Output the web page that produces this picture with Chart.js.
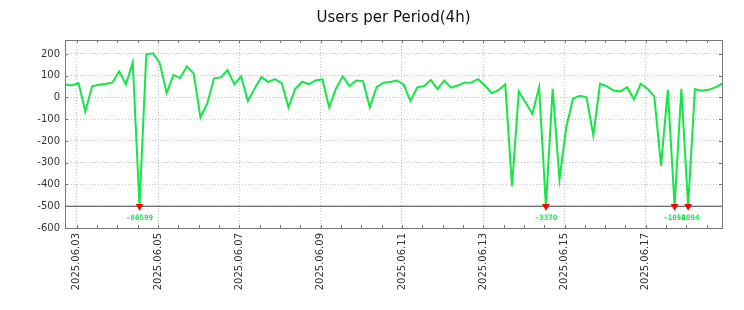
<!DOCTYPE html>
<html lang="en">
<head>
<meta charset="UTF-8">
<title>Users per Period(4h)</title>
<script src="https://cdn.jsdelivr.net/npm/chart.js"></script>
<style>
  html, body { margin: 0; padding: 0; background: #fff; }
  #wrap { position: relative; width: 744px; height: 310px; }
</style>
</head>
<body>
<div id="wrap"><canvas id="usersChart"></canvas></div>
<script>
// first sample is 7h before 2025.06.03 00:00, one sample every 4h
const startHour = -7;
const stepHours = 4;

// users per 4h period (raw values, some far below the axis)
const users = [
  60, 55, 66, -65, 51, 58, 62, 69, 120, 60,
  161, -66599, 198, 203, 157, 20, 103, 89, 143, 110,
  -92, -28, 88, 92, 126, 60, 97, -17, 41, 94,
  71, 84, 66, -46, 40, 72, 61, 78, 84, -45,
  40, 97, 52, 78, 75, -45, 47, 68, 71, 78,
  60, -17, 46, 52, 80, 38, 78, 45, 55, 68,
  69, 84, 55, 20, 33, 60, -408, 28, -23, -75,
  47, -3370, 40, -378, -137, -6, 8, 1, -175, 63,
  51, 32, 28, 47, -9, 63, 40, 5, -313, 35,
  -1050, 40, -8894, 38, 31, 35, 46, 63
];

// values under this are clipped and marked
const floorValue = -500;

const yTicks = [200, 100, 0, -100, -200, -300, -400, -500, -600];
const dayHours = [0, 48, 96, 144, 192, 240, 288, 336];
const dayLabels = ['2025.06.03', '2025.06.05', '2025.06.07', '2025.06.09',
                   '2025.06.11', '2025.06.13', '2025.06.15', '2025.06.17'];

const green = '#14e646';

const hours = users.map((v, i) => startHour + i * stepHours);
const linePoints = users.map((v, i) => ({ x: hours[i], y: Math.max(v, floorValue) }));
const clipped = [];
users.forEach((v, i) => { if (v < floorValue) clipped.push({ x: hours[i], y: floorValue, raw: v }); });

Chart.defaults.font.family = 'DejaVu Sans';
Chart.defaults.color = '#333';

// frame, inward tick marks and clipped-value labels (gnuplot look)
const frameAndLabels = {
  id: 'frameAndLabels',
  afterDatasetsDraw(chart) {
    const { ctx, chartArea: a, scales: { x, y } } = chart;
    ctx.save();
    ctx.strokeStyle = '#777';
    ctx.lineWidth = 1;
    ctx.beginPath();
    for (let h = 0; h <= x.max; h += 12) {
      const px = Math.round(x.getPixelForValue(h)) + 0.5;
      ctx.moveTo(px, a.bottom); ctx.lineTo(px, a.bottom - 3);
      ctx.moveTo(px, a.top); ctx.lineTo(px, a.top + 3);
    }
    yTicks.forEach(v => {
      const py = Math.round(y.getPixelForValue(v)) + 0.5;
      ctx.moveTo(a.left, py); ctx.lineTo(a.left + 3, py);
      ctx.moveTo(a.right, py); ctx.lineTo(a.right - 3, py);
    });
    ctx.stroke();
    ctx.strokeRect(Math.round(a.left) + 0.5, Math.round(a.top) + 0.5,
                   Math.round(a.right - a.left), Math.round(a.bottom - a.top));

    // labels under the markers
    const meta = chart.getDatasetMeta(2);
    ctx.fillStyle = green;
    ctx.font = 'bold 7.5px "DejaVu Sans Mono"';
    ctx.textAlign = 'center';
    ctx.textBaseline = 'middle';
    meta.data.forEach((pt, i) => {
      ctx.fillText(String(clipped[i].raw), pt.x, pt.y + 12);
    });
    ctx.restore();
  }
};

new Chart(document.getElementById('usersChart'), {
  type: 'line',
  data: {
    datasets: [
      {
        // horizontal floor line
        data: [{ x: startHour, y: floorValue }, { x: hours[hours.length - 1], y: floorValue }],
        borderColor: '#444',
        borderWidth: 1,
        pointRadius: 0,
        order: 3
      },
      {
        data: linePoints,
        borderColor: green,
        borderWidth: 2,
        pointRadius: 0,
        tension: 0,
        order: 2
      },
      {
        data: clipped,
        showLine: false,
        pointStyle: 'triangle',
        rotation: 180,
        pointRadius: 4.5,
        backgroundColor: '#ff0000',
        borderColor: '#ff0000',
        borderWidth: 0,
        order: 1
      }
    ]
  },
  options: {
    responsive: true,
    maintainAspectRatio: false,
    animation: false,
    layout: { padding: { left: 0, right: 22, top: 0, bottom: 0 } },
    plugins: {
      legend: { display: false },
      tooltip: { enabled: false },
      title: {
        display: true,
        text: 'Users per Period(4h)',
        fullSize: false,
        color: '#111',
        font: { size: 15, weight: 'normal' },
        padding: { top: 9, bottom: 13 }
      }
    },
    scales: {
      x: {
        type: 'linear',
        min: startHour,
        max: hours[hours.length - 1],
        afterBuildTicks: s => { s.ticks = dayHours.map(v => ({ value: v })); },
        afterFit: s => { s.height = 82; },
        ticks: {
          autoSkip: false,
          minRotation: 90,
          maxRotation: 90,
          padding: 5,
          font: { size: 10 },
          callback: (v, i) => dayLabels[i]
        },
        grid: { color: '#c4c4c4', drawTicks: false },
        border: { display: false, dash: [1, 2] }
      },
      y: {
        min: -600,
        max: 264,
        afterBuildTicks: s => { s.ticks = yTicks.map(v => ({ value: v })); },
        afterFit: s => { s.width = 65; },
        ticks: { padding: 5, font: { size: 10 } },
        grid: { color: '#c4c4c4', drawTicks: false },
        border: { display: false, dash: [1, 2] }
      }
    }
  },
  plugins: [frameAndLabels]
});
</script>
</body>
</html>
